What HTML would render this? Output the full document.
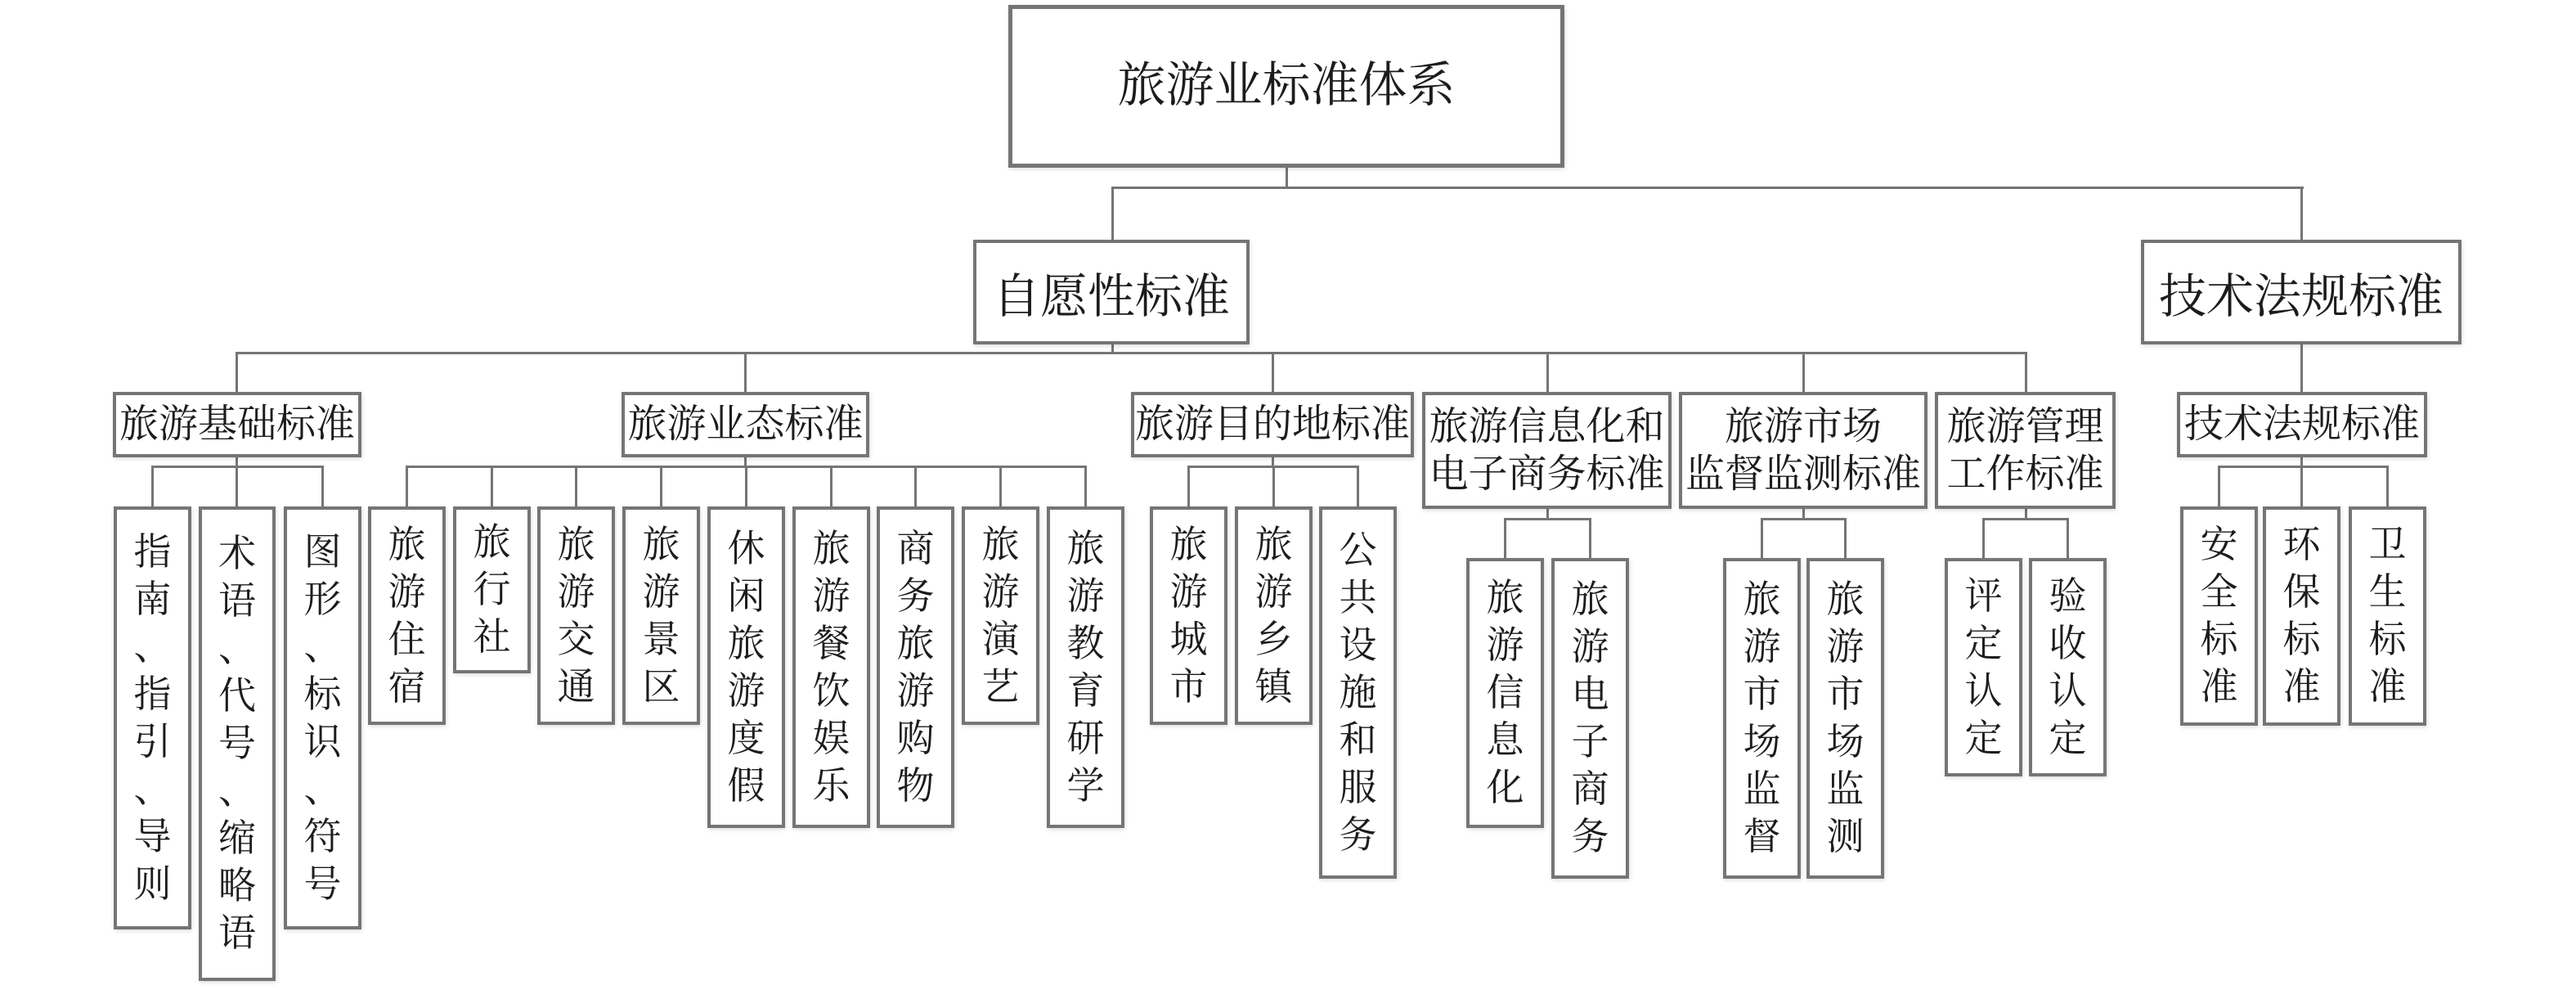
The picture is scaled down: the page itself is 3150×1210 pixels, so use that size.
<!DOCTYPE html>
<html>
<head>
<meta charset="utf-8">
<style>
  html,body{margin:0;padding:0;background:#fff;}
  #c{position:relative;width:3150px;height:1210px;overflow:hidden;background:#fff;}
  .b{position:absolute;box-sizing:border-box;border:4px solid #757575;background:#fff;display:flex;align-items:center;justify-content:center;text-align:center;font-family:"Liberation Serif","Noto Serif CJK SC",serif;color:#1c1c1c;white-space:nowrap;box-shadow:1px 2px 5px rgba(0,0,0,0.13);}
  .l{font-size:46px;line-height:58px;}
  .m{font-size:48px;line-height:58px;}
  .h{position:absolute;background:#757575;height:3px;}
  .v{position:absolute;background:#757575;width:3px;}
</style>
</head>
<body>
<div id="c">

<!-- connectors top -->
<div class="v" style="left:1572px;top:204px;height:26px;"></div>
<div class="h" style="left:1359px;top:228px;width:1458px;"></div>
<div class="v" style="left:1359px;top:228px;height:66px;"></div>
<div class="v" style="left:2813px;top:228px;height:66px;"></div>

<!-- level 2 -> level 3 -->
<div class="v" style="left:1359px;top:420px;height:12px;"></div>
<div class="h" style="left:288px;top:430px;width:2191px;"></div>
<div class="v" style="left:288px;top:430px;height:50px;"></div>
<div class="v" style="left:910px;top:430px;height:50px;"></div>
<div class="v" style="left:1555px;top:430px;height:50px;"></div>
<div class="v" style="left:1891px;top:430px;height:50px;"></div>
<div class="v" style="left:2204px;top:430px;height:50px;"></div>
<div class="v" style="left:2476px;top:430px;height:50px;"></div>
<div class="v" style="left:2813px;top:420px;height:60px;"></div>

<!-- 基础 -->
<div class="v" style="left:288px;top:558px;height:13px;"></div>
<div class="h" style="left:185px;top:569px;width:211px;"></div>
<div class="v" style="left:185px;top:569px;height:51px;"></div>
<div class="v" style="left:288px;top:569px;height:51px;"></div>
<div class="v" style="left:393px;top:569px;height:51px;"></div>

<!-- 业态 -->
<div class="v" style="left:910px;top:558px;height:13px;"></div>
<div class="h" style="left:496px;top:569px;width:833px;"></div>
<div class="v" style="left:496px;top:569px;height:51px;"></div>
<div class="v" style="left:600px;top:569px;height:51px;"></div>
<div class="v" style="left:703px;top:569px;height:51px;"></div>
<div class="v" style="left:807px;top:569px;height:51px;"></div>
<div class="v" style="left:911px;top:569px;height:51px;"></div>
<div class="v" style="left:1015px;top:569px;height:51px;"></div>
<div class="v" style="left:1118px;top:569px;height:51px;"></div>
<div class="v" style="left:1222px;top:569px;height:51px;"></div>
<div class="v" style="left:1326px;top:569px;height:51px;"></div>

<!-- 目的地 -->
<div class="v" style="left:1555px;top:558px;height:13px;"></div>
<div class="h" style="left:1452px;top:569px;width:210px;"></div>
<div class="v" style="left:1452px;top:569px;height:51px;"></div>
<div class="v" style="left:1556px;top:569px;height:51px;"></div>
<div class="v" style="left:1659px;top:569px;height:51px;"></div>

<!-- 信息化 -->
<div class="v" style="left:1891px;top:622px;height:13px;"></div>
<div class="h" style="left:1839px;top:633px;width:107px;"></div>
<div class="v" style="left:1839px;top:633px;height:50px;"></div>
<div class="v" style="left:1943px;top:633px;height:50px;"></div>

<!-- 市场 -->
<div class="v" style="left:2204px;top:622px;height:13px;"></div>
<div class="h" style="left:2153px;top:633px;width:105px;"></div>
<div class="v" style="left:2153px;top:633px;height:50px;"></div>
<div class="v" style="left:2255px;top:633px;height:50px;"></div>

<!-- 管理 -->
<div class="v" style="left:2476px;top:622px;height:13px;"></div>
<div class="h" style="left:2424px;top:633px;width:106px;"></div>
<div class="v" style="left:2424px;top:633px;height:50px;"></div>
<div class="v" style="left:2527px;top:633px;height:50px;"></div>

<!-- 技术 -->
<div class="v" style="left:2813px;top:558px;height:13px;"></div>
<div class="h" style="left:2712px;top:569px;width:209px;"></div>
<div class="v" style="left:2712px;top:569px;height:51px;"></div>
<div class="v" style="left:2813px;top:569px;height:51px;"></div>
<div class="v" style="left:2918px;top:569px;height:51px;"></div>

<!-- top -->
<div class="b" style="left:1233px;top:6px;width:680px;height:199px;border-width:5px;font-size:59px;padding-bottom:14px;">旅游业标准体系</div>

<!-- level 2 -->
<div class="b" style="left:1190px;top:293px;width:338px;height:128px;font-size:58px;">自愿性标准</div>
<div class="b" style="left:2618px;top:293px;width:392px;height:128px;font-size:58px;">技术法规标准</div>

<!-- level 3 -->
<div class="b m" style="left:138px;top:479px;width:304px;height:80px;">旅游基础标准</div>
<div class="b m" style="left:760px;top:479px;width:303px;height:80px;">旅游业态标准</div>
<div class="b m" style="left:1383px;top:479px;width:346px;height:80px;">旅游目的地标准</div>
<div class="b m" style="left:1739px;top:479px;width:305px;height:143px;">旅游信息化和<br>电子商务标准</div>
<div class="b m" style="left:2053px;top:479px;width:304px;height:143px;">旅游市场<br>监督监测标准</div>
<div class="b m" style="left:2366px;top:479px;width:221px;height:143px;">旅游管理<br>工作标准</div>
<div class="b m" style="left:2662px;top:479px;width:306px;height:80px;">技术法规标准</div>

<!-- leaves 基础 -->
<div class="b l" style="left:139px;top:619px;width:95px;height:517px;">指<br>南<br>、<br>指<br>引<br>、<br>导<br>则</div>
<div class="b l" style="left:243px;top:619px;width:94px;height:580px;">术<br>语<br>、<br>代<br>号<br>、<br>缩<br>略<br>语</div>
<div class="b l" style="left:347px;top:619px;width:95px;height:517px;">图<br>形<br>、<br>标<br>识<br>、<br>符<br>号</div>

<!-- leaves 业态 -->
<div class="b l" style="left:450px;top:619px;width:95px;height:267px;">旅<br>游<br>住<br>宿</div>
<div class="b l" style="left:554px;top:619px;width:95px;height:204px;">旅<br>行<br>社</div>
<div class="b l" style="left:657px;top:619px;width:95px;height:267px;">旅<br>游<br>交<br>通</div>
<div class="b l" style="left:761px;top:619px;width:95px;height:267px;">旅<br>游<br>景<br>区</div>
<div class="b l" style="left:865px;top:619px;width:95px;height:393px;">休<br>闲<br>旅<br>游<br>度<br>假</div>
<div class="b l" style="left:969px;top:619px;width:95px;height:393px;">旅<br>游<br>餐<br>饮<br>娱<br>乐</div>
<div class="b l" style="left:1072px;top:619px;width:95px;height:393px;">商<br>务<br>旅<br>游<br>购<br>物</div>
<div class="b l" style="left:1176px;top:619px;width:95px;height:267px;">旅<br>游<br>演<br>艺</div>
<div class="b l" style="left:1280px;top:619px;width:95px;height:393px;">旅<br>游<br>教<br>育<br>研<br>学</div>

<!-- leaves 目的地 -->
<div class="b l" style="left:1406px;top:619px;width:95px;height:267px;">旅<br>游<br>城<br>市</div>
<div class="b l" style="left:1510px;top:619px;width:95px;height:267px;">旅<br>游<br>乡<br>镇</div>
<div class="b l" style="left:1613px;top:619px;width:95px;height:455px;">公<br>共<br>设<br>施<br>和<br>服<br>务</div>

<!-- leaves 信息化 -->
<div class="b l" style="left:1793px;top:682px;width:95px;height:330px;">旅<br>游<br>信<br>息<br>化</div>
<div class="b l" style="left:1897px;top:682px;width:95px;height:392px;">旅<br>游<br>电<br>子<br>商<br>务</div>

<!-- leaves 市场 -->
<div class="b l" style="left:2107px;top:682px;width:95px;height:392px;">旅<br>游<br>市<br>场<br>监<br>督</div>
<div class="b l" style="left:2209px;top:682px;width:95px;height:392px;">旅<br>游<br>市<br>场<br>监<br>测</div>

<!-- leaves 管理 -->
<div class="b l" style="left:2378px;top:682px;width:95px;height:267px;">评<br>定<br>认<br>定</div>
<div class="b l" style="left:2481px;top:682px;width:95px;height:267px;">验<br>收<br>认<br>定</div>

<!-- leaves 技术 -->
<div class="b l" style="left:2666px;top:619px;width:95px;height:268px;">安<br>全<br>标<br>准</div>
<div class="b l" style="left:2767px;top:619px;width:95px;height:268px;">环<br>保<br>标<br>准</div>
<div class="b l" style="left:2872px;top:619px;width:95px;height:268px;">卫<br>生<br>标<br>准</div>

</div>
</body>
</html>
